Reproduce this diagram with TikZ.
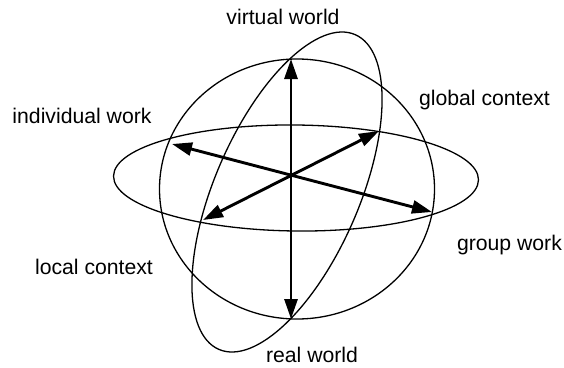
\documentclass[tikz,border=0pt]{standalone}
\usepackage{fontspec}
\setmainfont{Liberation Sans}
\usetikzlibrary{arrows.meta}
\begin{document}
\begin{tikzpicture}[x=1pt,y=-1pt,
  thinline/.style={line width=1.3pt},
  axisarrow/.style={line width=2.9pt,
    {Triangle[length=20pt,width=13pt]}-{Triangle[length=20pt,width=13pt]}},
  lbl/.style={font=\fontsize{21.2}{25}\selectfont, inner sep=0pt}]
\useasboundingbox (0,0) rectangle (564,367);
% sphere outline
\draw[thinline] (297,189) ellipse [x radius=137.5, y radius=130];
% equator
\draw[thinline, rotate around={-0.6:(296,178)}] (296,178) ellipse [x radius=182.5, y radius=53];
% meridian
\draw[thinline, rotate around={66.6:(287,192)}] (287,192) ellipse [x radius=171.5, y radius=72.3];
% axis end points
\coordinate (top) at (291,59);
\coordinate (bottom) at (291,319);
\coordinate (indiv) at (172,144);
\coordinate (group) at (432,212);
\coordinate (glob) at (379,131);
\coordinate (loc) at (203,220);
\draw[axisarrow] (bottom) -- (top);
\draw[axisarrow] (indiv) -- (group);
\draw[axisarrow] (loc) -- (glob);
% labels
\node[lbl] (virtual) at (283,17) {virtual world};
\node[lbl] (individual) at (82,116) {individual work};
\node[lbl] (global) at (484.5,100) {global context};
\node[lbl] (groupw) at (509.5,245) {group work};
\node[lbl] (local) at (94,267) {local context};
\node[lbl] (real) at (312,355) {real world};
\end{tikzpicture}
\end{document}
